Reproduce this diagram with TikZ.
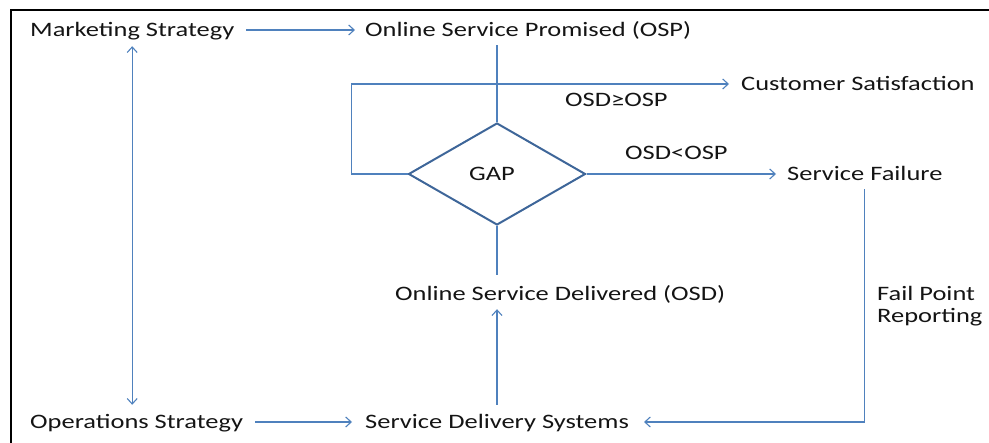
\documentclass[tikz,border=0pt]{standalone}
\usepackage{fontspec}
\setmainfont{Carlito}[FakeStretch=1.29]
\usetikzlibrary{arrows.meta,shapes.geometric}
\definecolor{linkblue}{HTML}{4F81BD}
\definecolor{gapblue}{HTML}{3E6699}
\definecolor{inkgray}{HTML}{141414}
\tikzset{
  lbl/.style={inner sep=0pt, anchor=west, text height=14pt, text depth=0pt,
              font=\fontsize{20.5}{24}\selectfont, text=inkgray},
  barb/.tip={Straight Barb[length=5.5pt,width=10pt,line width=1.1pt]},
  plain/.style={draw=linkblue, line width=1.2pt},
  flow/.style={plain, -barb},
  bothways/.style={plain, barb-barb},
  gapbox/.style={shape=diamond, draw=gapblue, line width=2pt, inner sep=0pt,
                 minimum width=177pt, minimum height=102pt,
                 font=\fontsize{20.5}{24}\selectfont, text=inkgray},
}
\begin{document}
\begin{tikzpicture}[x=1pt,y=-1pt]
\useasboundingbox (0,0) rectangle (989,443);
% frame
\draw[line width=2.2pt] (11,443) -- (11,10) -- (989,10);

% labels
\node[lbl] (ms)  at (30,30)   {Marketing Strategy};
\node[lbl] (osp) at (365,30)  {Online Service Promised (OSP)};
\node[lbl] (cs)  at (741,84)  {Customer Satisfaction};
\node[lbl] (ge)  at (565,100) {OSD≥OSP};
\node[lbl] (lt)  at (625,153) {OSD<OSP};
\node[lbl] (sf)  at (787,174) {Service Failure};
\node[lbl] (osd) at (395,294) {Online Service Delivered (OSD)};
\node[lbl] (fp1) at (877,294) {Fail Point};
\node[lbl] (fp2) at (877,316) {Reporting};
\node[lbl] (ops) at (30,422)  {Operations Strategy};
\node[lbl] (sds) at (365,422) {Service Delivery Systems};

% decision
\node[gapbox] (gap) at (497,174) {\hspace*{-10pt}GAP};

% connectors
\draw[flow, shorten <=12pt, shorten >=10pt] (ms.east) -- (osp.west);
\draw[flow, shorten <=12pt, shorten >=13pt] (ops.east) -- (sds.west);
\draw[bothways, shorten <=9pt, shorten >=10pt] (ms.south) -- (ms.south |- ops.north);
\draw[plain] ([yshift=-8pt]gap.north |- osp.south) -- (gap.north);
\draw[flow, shorten >=12pt] (gap.west) -- ++(-56,0) |- (cs.west);
\draw[flow, shorten >=11pt] (gap.east) -- (sf.west);
\draw[plain, shorten >=12pt] (gap.south) -- (gap.south |- osd.north);
\draw[flow, shorten <=10pt, shorten >=8pt] (gap.south |- sds.north) -- (gap.south |- osd.south);
\draw[flow, shorten <=8pt, shorten >=15pt] (sf.south) |- (sds.east);
\end{tikzpicture}
\end{document}
